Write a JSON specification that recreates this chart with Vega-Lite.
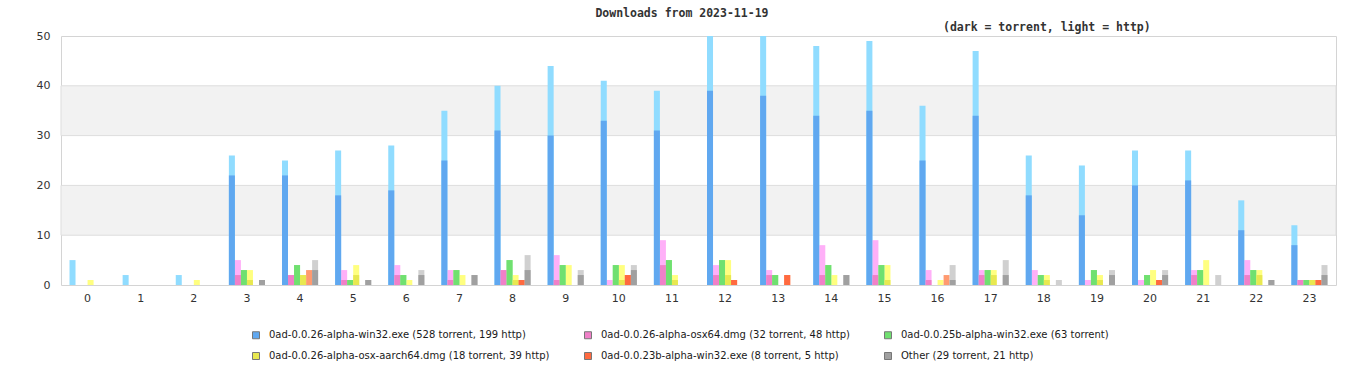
{
  "$schema": "https://vega.github.io/schema/vega-lite/v6.json",
  "width": 1275,
  "height": 249,
  "autosize": {"type": "none"},
  "padding": {"left": 61, "top": 36, "right": 30, "bottom": 95},
  "background": "white",
  "config": {
    "view": {"stroke": "#d4d4d4", "strokeWidth": 1},
    "font": "DejaVu Sans"
  },
  "datasets": {
    "bands": [{"lo": 10, "hi": 20}, {"lo": 30, "hi": 40}],
    "bars": [
      {"h": 0, "f": "W", "t": 0, "n": 5}, {"h": 0, "f": "A", "t": 0, "n": 1},
      {"h": 1, "f": "W", "t": 0, "n": 2},
      {"h": 2, "f": "W", "t": 0, "n": 2}, {"h": 2, "f": "A", "t": 0, "n": 1},
      {"h": 3, "f": "W", "t": 22, "n": 26}, {"h": 3, "f": "O", "t": 2, "n": 5}, {"h": 3, "f": "G", "t": 3, "n": 3}, {"h": 3, "f": "A", "t": 1, "n": 3}, {"h": 3, "f": "X", "t": 1, "n": 1},
      {"h": 4, "f": "W", "t": 22, "n": 25}, {"h": 4, "f": "O", "t": 2, "n": 2}, {"h": 4, "f": "G", "t": 4, "n": 4}, {"h": 4, "f": "A", "t": 2, "n": 2}, {"h": 4, "f": "R", "t": 0, "n": 3}, {"h": 4, "f": "X", "t": 3, "n": 5},
      {"h": 5, "f": "W", "t": 18, "n": 27}, {"h": 5, "f": "O", "t": 1, "n": 3}, {"h": 5, "f": "G", "t": 1, "n": 1}, {"h": 5, "f": "A", "t": 2, "n": 4}, {"h": 5, "f": "X", "t": 1, "n": 1},
      {"h": 6, "f": "W", "t": 19, "n": 28}, {"h": 6, "f": "O", "t": 2, "n": 4}, {"h": 6, "f": "G", "t": 2, "n": 2}, {"h": 6, "f": "A", "t": 0, "n": 1}, {"h": 6, "f": "X", "t": 2, "n": 3},
      {"h": 7, "f": "W", "t": 25, "n": 35}, {"h": 7, "f": "O", "t": 1, "n": 3}, {"h": 7, "f": "G", "t": 3, "n": 3}, {"h": 7, "f": "A", "t": 0, "n": 2}, {"h": 7, "f": "X", "t": 2, "n": 2},
      {"h": 8, "f": "W", "t": 31, "n": 40}, {"h": 8, "f": "O", "t": 3, "n": 3}, {"h": 8, "f": "G", "t": 5, "n": 5}, {"h": 8, "f": "A", "t": 1, "n": 2}, {"h": 8, "f": "R", "t": 1, "n": 1}, {"h": 8, "f": "X", "t": 3, "n": 6},
      {"h": 9, "f": "W", "t": 30, "n": 44}, {"h": 9, "f": "O", "t": 1, "n": 6}, {"h": 9, "f": "G", "t": 4, "n": 4}, {"h": 9, "f": "A", "t": 0, "n": 4}, {"h": 9, "f": "X", "t": 2, "n": 3},
      {"h": 10, "f": "W", "t": 33, "n": 41}, {"h": 10, "f": "O", "t": 0, "n": 1}, {"h": 10, "f": "G", "t": 4, "n": 4}, {"h": 10, "f": "A", "t": 1, "n": 4}, {"h": 10, "f": "R", "t": 2, "n": 2}, {"h": 10, "f": "X", "t": 3, "n": 4},
      {"h": 11, "f": "W", "t": 31, "n": 39}, {"h": 11, "f": "O", "t": 4, "n": 9}, {"h": 11, "f": "G", "t": 5, "n": 5}, {"h": 11, "f": "A", "t": 1, "n": 2},
      {"h": 12, "f": "W", "t": 39, "n": 50}, {"h": 12, "f": "O", "t": 2, "n": 4}, {"h": 12, "f": "G", "t": 5, "n": 5}, {"h": 12, "f": "A", "t": 2, "n": 5}, {"h": 12, "f": "R", "t": 1, "n": 1},
      {"h": 13, "f": "W", "t": 38, "n": 50}, {"h": 13, "f": "O", "t": 2, "n": 3}, {"h": 13, "f": "G", "t": 2, "n": 2}, {"h": 13, "f": "R", "t": 2, "n": 2},
      {"h": 14, "f": "W", "t": 34, "n": 48}, {"h": 14, "f": "O", "t": 2, "n": 8}, {"h": 14, "f": "G", "t": 4, "n": 4}, {"h": 14, "f": "A", "t": 0, "n": 2}, {"h": 14, "f": "X", "t": 2, "n": 2},
      {"h": 15, "f": "W", "t": 35, "n": 49}, {"h": 15, "f": "O", "t": 2, "n": 9}, {"h": 15, "f": "G", "t": 4, "n": 4}, {"h": 15, "f": "A", "t": 1, "n": 4},
      {"h": 16, "f": "W", "t": 25, "n": 36}, {"h": 16, "f": "O", "t": 1, "n": 3}, {"h": 16, "f": "A", "t": 0, "n": 1}, {"h": 16, "f": "R", "t": 0, "n": 2}, {"h": 16, "f": "X", "t": 1, "n": 4},
      {"h": 17, "f": "W", "t": 34, "n": 47}, {"h": 17, "f": "O", "t": 2, "n": 3}, {"h": 17, "f": "G", "t": 3, "n": 3}, {"h": 17, "f": "A", "t": 2, "n": 3}, {"h": 17, "f": "X", "t": 2, "n": 5},
      {"h": 18, "f": "W", "t": 18, "n": 26}, {"h": 18, "f": "O", "t": 0, "n": 3}, {"h": 18, "f": "G", "t": 2, "n": 2}, {"h": 18, "f": "A", "t": 1, "n": 2}, {"h": 18, "f": "X", "t": 0, "n": 1},
      {"h": 19, "f": "W", "t": 14, "n": 24}, {"h": 19, "f": "O", "t": 0, "n": 1}, {"h": 19, "f": "G", "t": 3, "n": 3}, {"h": 19, "f": "A", "t": 1, "n": 2}, {"h": 19, "f": "X", "t": 2, "n": 3},
      {"h": 20, "f": "W", "t": 20, "n": 27}, {"h": 20, "f": "O", "t": 0, "n": 1}, {"h": 20, "f": "G", "t": 2, "n": 2}, {"h": 20, "f": "A", "t": 0, "n": 3}, {"h": 20, "f": "R", "t": 1, "n": 1}, {"h": 20, "f": "X", "t": 2, "n": 3},
      {"h": 21, "f": "W", "t": 21, "n": 27}, {"h": 21, "f": "O", "t": 2, "n": 3}, {"h": 21, "f": "G", "t": 3, "n": 3}, {"h": 21, "f": "A", "t": 0, "n": 5}, {"h": 21, "f": "X", "t": 0, "n": 2},
      {"h": 22, "f": "W", "t": 11, "n": 17}, {"h": 22, "f": "O", "t": 2, "n": 5}, {"h": 22, "f": "G", "t": 3, "n": 3}, {"h": 22, "f": "A", "t": 2, "n": 3}, {"h": 22, "f": "X", "t": 1, "n": 1},
      {"h": 23, "f": "W", "t": 8, "n": 12}, {"h": 23, "f": "O", "t": 1, "n": 1}, {"h": 23, "f": "G", "t": 1, "n": 1}, {"h": 23, "f": "A", "t": 1, "n": 1}, {"h": 23, "f": "R", "t": 1, "n": 1}, {"h": 23, "f": "X", "t": 2, "n": 4}
    ]
  },
  "resolve": {"scale": {"color": "independent"}, "legend": {"color": "independent"}},
  "layer": [
    {
      "data": {"name": "bands"},
      "mark": {"type": "rect", "fill": "#f2f2f2", "stroke": "#dddddd", "strokeWidth": 1},
      "encoding": {
        "y": {"field": "lo", "type": "quantitative", "scale": {"domain": [0, 50], "nice": false},
          "axis": {"values": [0, 10, 20, 30, 40, 50], "ticks": false, "domain": false, "grid": false, "labelPadding": 11, "labelFontSize": 11, "labelColor": "#333333", "title": null}},
        "y2": {"field": "hi"}
      }
    },
    {
      "data": {"name": "bars"},
      "mark": {"type": "bar"},
      "encoding": {
        "x": {"field": "h", "type": "ordinal",
          "scale": {"paddingInner": 0.32, "paddingOuter": 0.16},
          "axis": {"labelAngle": 0, "ticks": false, "domain": false, "labelPadding": 7, "labelFontSize": 11, "labelColor": "#333333", "title": null}},
        "xOffset": {"field": "f", "type": "nominal", "scale": {"domain": ["W", "O", "G", "A", "R", "X"]}},
        "y": {"field": "n", "type": "quantitative", "stack": null},
        "color": {"field": "f", "type": "nominal",
          "scale": {"domain": ["W", "O", "G", "A", "R", "X"], "range": ["#90dcff", "#ffb0f8", "#a0f0a0", "#ffff80", "#ff9a70", "#d0d0d0"]},
          "legend": null}
      }
    },
    {
      "data": {"name": "bars"},
      "mark": {"type": "bar"},
      "encoding": {
        "x": {"field": "h", "type": "ordinal"},
        "xOffset": {"field": "f", "type": "nominal", "scale": {"domain": ["W", "O", "G", "A", "R", "X"]}},
        "y": {"field": "t", "type": "quantitative", "stack": null},
        "color": {"field": "f", "type": "nominal",
          "scale": {"domain": ["W", "O", "G", "A", "R", "X"], "range": ["#60a8f0", "#f080c8", "#70e070", "#e8e850", "#ff6a40", "#a0a0a0"]},
          "legend": {
            "title": null,
            "orient": "none",
            "legendX": 190,
            "legendY": 294,
            "direction": "horizontal",
            "columns": 3,
            "columnPadding": 32,
            "rowPadding": 9,
            "symbolType": "square",
            "symbolSize": 49,
            "symbolStrokeColor": "#777777",
            "symbolStrokeWidth": 1,
            "labelOffset": 8,
            "labelFont": "DejaVu Sans",
            "labelFontSize": 10,
            "labelColor": "#1a1a1a",
            "labelLimit": 0,
            "labelExpr": "datum.label == 'W' ? '0ad-0.0.26-alpha-win32.exe (528 torrent, 199 http)' : datum.label == 'O' ? '0ad-0.0.26-alpha-osx64.dmg (32 torrent, 48 http)' : datum.label == 'G' ? '0ad-0.0.25b-alpha-win32.exe (63 torrent)' : datum.label == 'A' ? '0ad-0.0.26-alpha-osx-aarch64.dmg (18 torrent, 39 http)' : datum.label == 'R' ? '0ad-0.0.23b-alpha-win32.exe (8 torrent, 5 http)' : 'Other (29 torrent, 21 http)'"
          }
        }
      }
    },
    {
      "data": {"values": [{"h": 11, "note": "Downloads from 2023-11-19"}]},
      "mark": {"type": "text", "font": "DejaVu Sans Mono", "fontWeight": "bold", "fontSize": 11.5, "color": "#333333", "dy": -22, "dx": 10},
      "encoding": {
        "x": {"field": "h", "type": "ordinal"},
        "y": {"datum": 50},
        "text": {"field": "note"}
      }
    },
    {
      "data": {"values": [{"h": 18, "note": "(dark = torrent, light = http)"}]},
      "mark": {"type": "text", "font": "DejaVu Sans Mono", "fontWeight": "bold", "fontSize": 11.5, "color": "#333333", "dy": -8, "dx": 3},
      "encoding": {
        "x": {"field": "h", "type": "ordinal"},
        "y": {"datum": 50},
        "text": {"field": "note"}
      }
    }
  ]
}
